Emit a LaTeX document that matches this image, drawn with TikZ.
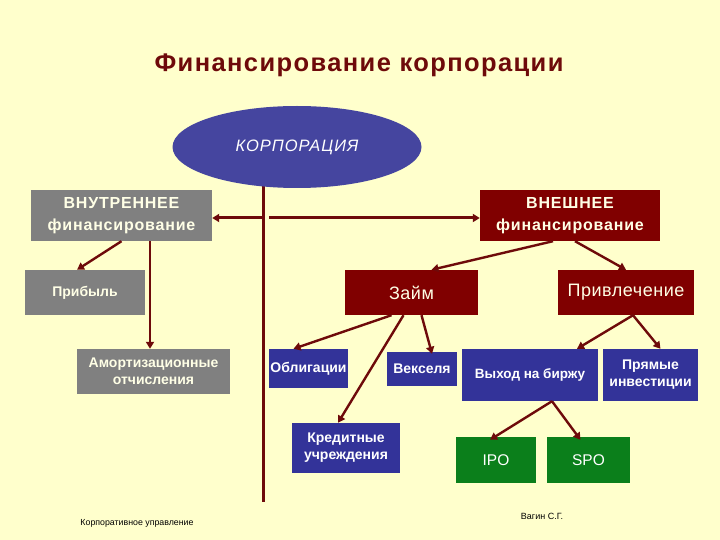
\documentclass[tikz,border=0pt]{standalone}
\usepackage{fontspec}
\setmainfont{Liberation Sans}
\usetikzlibrary{arrows.meta,shapes.geometric}
\definecolor{bgc}{HTML}{FFFFCC}
\definecolor{dred}{HTML}{800000}
\definecolor{lred}{HTML}{6E0A0A}
\definecolor{gbox}{HTML}{808080}
\definecolor{bbox}{HTML}{333399}
\definecolor{ebox}{HTML}{45459F}
\definecolor{grn}{HTML}{0B7F1B}
\definecolor{cream}{HTML}{FFFFE6}
\newcommand{\fsz}[3]{\fontsize{#1}{#2}\selectfont\addfontfeature{LetterSpace=#3}}
\tikzset{
  base/.style={rectangle, inner sep=0pt, align=center, text=cream},
  graybox/.style={base, fill=gbox},
  redbox/.style={base, fill=dred},
  bluebox/.style={base, fill=bbox, text=white},
  greenbox/.style={base, fill=grn, text=white},
  arr/.style={draw=lred, line width=2.4pt, -{Triangle[length=7pt,width=8pt]}},
  vline/.style={draw=lred, line width=3pt},
}
\begin{document}
\begin{tikzpicture}[x=1pt,y=-1pt]
\fill[bgc] (0,0) rectangle (720,540);
\useasboundingbox (0,0) rectangle (720,540);

\node[text=lred, font=\bfseries\fsz{25.5}{28}{5.5}] (title) at (359,65) {Финансирование корпорации};

\coordinate (vtop) at (263,160);
\coordinate (vbot) at (263,502);
\draw[vline] (vtop) -- (vbot);

\node[ellipse, fill=ebox, inner sep=0pt, minimum width=249, minimum height=82, text=white,
  font=\itshape\fsz{16.5}{18}{6}] (corp) at (297,147) {КОРПОРАЦИЯ};

\node[graybox, minimum width=181, minimum height=51, font=\bfseries\fsz{16}{22}{5}] (vn) at (121.5,215.5)
  {ВНУТРЕННЕЕ\\финансирование};
\node[redbox, minimum width=180, minimum height=51, font=\bfseries\fsz{16}{22}{5}] (vnesh) at (570,215.5)
  {ВНЕШНЕЕ\\финансирование};

\node[graybox, minimum width=120, minimum height=45, font=\bfseries\fsz{14}{17}{0}] (prib) at (85,292.5) {Прибыль};
\node[graybox, minimum width=153, minimum height=45, font=\bfseries\fsz{14}{17}{0}] (amort) at (153.5,371.5) {Амортизационные\\отчисления};

\node[redbox, minimum width=133, minimum height=45, font=\fsz{18}{21}{3}] (zaim) at (411.5,292.5) {Займ};
\node[redbox, minimum width=136, minimum height=45, font=\fsz{18}{21}{3}] (priv) at (626,292.5) {Привлечение};

\node[bluebox, minimum width=79, minimum height=39, font=\bfseries\fsz{14}{17}{0}] (obl) at (308.5,368.5) {Облигации};
\node[bluebox, minimum width=70, minimum height=34, font=\bfseries\fsz{14}{17}{0}] (veks) at (422,369) {Векселя};
\node[bluebox, minimum width=108, minimum height=50, font=\bfseries\fsz{14}{17}{0}] (kred) at (346,448) {Кредитные\\учреждения};
\node[bluebox, minimum width=136, minimum height=52, font=\bfseries\fsz{13.5}{17}{0}] (vyh) at (530,375) {Выход на биржу};
\node[bluebox, minimum width=95, minimum height=52, font=\bfseries\fsz{14}{17}{0}] (pryam) at (650.5,375) {Прямые\\инвестиции};
\node[greenbox, minimum width=80, minimum height=46, font=\fsz{15.5}{18}{0}] (ipo) at (496,460) {IPO};
\node[greenbox, minimum width=83, minimum height=46, font=\fsz{15.5}{18}{0}] (spo) at (588.5,460) {SPO};

\node[font=\fsz{9}{10}{0}] (vagin) at (542,516) {Вагин С.Г.};
\node[font=\fsz{8.8}{10}{0}] (kup) at (137,523) {Корпоративное управление};

\draw[vline, {Triangle[length=7pt,width=8pt]}-{Triangle[length=7pt,width=8pt]}] (vn.east |- 0,218) -- (vnesh.west |- 0,218);
\fill[bgc] (265,215) rectangle (269,221);

\draw[arr] (vn.south) -- ([xshift=-8]prib.north);
\draw[arr] ([xshift=28.5]vn.south) -- ([xshift=-3.5]amort.north);
\draw[arr] ([xshift=-17]vnesh.south) -- ([xshift=20]zaim.north);
\draw[arr] ([xshift=5]vnesh.south) -- (priv.north);
\draw[arr] ([xshift=-20]zaim.south) -- ([xshift=-15]obl.north);
\draw[arr] ([xshift=-8]zaim.south) -- ([xshift=-8]kred.north);
\draw[arr] ([xshift=10]zaim.south) -- ([xshift=10,yshift=-2]veks.north);
\draw[arr] ([xshift=7]priv.south) -- ([xshift=47]vyh.north);
\draw[arr] ([xshift=7]priv.south) -- ([xshift=10]pryam.north);
\draw[arr] ([xshift=22]vyh.south) -- ([xshift=-6,yshift=-3]ipo.north);
\draw[arr] ([xshift=22]vyh.south) -- ([xshift=-8,yshift=-3]spo.north);
\end{tikzpicture}
\end{document}
